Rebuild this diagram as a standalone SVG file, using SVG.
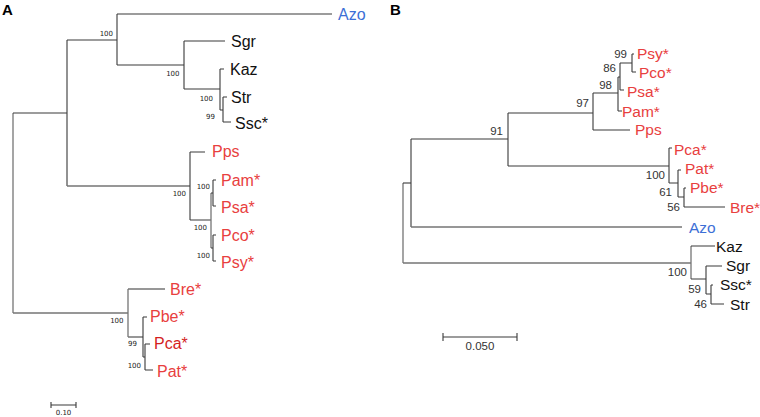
<svg xmlns="http://www.w3.org/2000/svg" width="760" height="417" viewBox="0 0 760 417">
<style>
.br{fill:none;stroke:#3a3a3a;stroke-width:1.1}
.br2{fill:none;stroke:#757575;stroke-width:1.3}
.t{font-family:"Liberation Sans",Arial,sans-serif}
.ta{font-size:16px}
.tb{font-size:15.5px}
.r{fill:#e8403e}
.rd{fill:#d41f1f}
.bl{fill:#3d6fd6}
.k{fill:#111}
.sa{font-family:"DejaVu Sans",Verdana,sans-serif;font-size:7px;fill:#222;text-anchor:end}
.sb{font-family:"Liberation Sans Narrow","Liberation Sans",Arial,sans-serif;font-size:11.5px;fill:#333;text-anchor:end}
.pl{font-family:"Liberation Sans",Arial,sans-serif;font-size:15px;font-weight:bold;fill:#000}
</style>
<rect width="760" height="417" fill="#fff"/>
<text class="pl" x="2" y="15">A</text>
<text class="pl" x="390" y="15">B</text>
<g id="connectors">
<!-- Panel A -->
<path class="br2" d="M13,113 V313"/>
<path class="br" d="M13,113 H67"/>
<path class="br2" d="M13,313 H128"/>
<path class="br" d="M67,40 V186 M67,40 H117"/>
<path class="br2" d="M67,186 H190"/>
<path class="br" d="M117,14 V65 M117,14 H332 M117,65 H184"/>
<path class="br" d="M184,41 V89 M184,41 H225 M184,89 H220"/>
<path class="br" d="M220,69 V110 M220,69 H224 M220,110 H223"/>
<path class="br" d="M223,97 V122 M223,97 H227 M223,122 H231"/>
<path class="br" d="M190,152 V220 M190,152 H205 M190,220 H211"/>
<path class="br2" d="M211,193 V248"/>
<path class="br" d="M211,193 H213 M211,248 H213"/>
<path class="br" d="M213,180 V206 M213,180 H216 M213,206 H216"/>
<path class="br" d="M213,235 V261 M213,235 H216 M213,261 H216"/>
<path class="br2" d="M128,289 V337 M128,289 H165 M128,337 H143"/>
<path class="br" d="M143,317 V357 M143,317 H147 M143,357 H145"/>
<path class="br" d="M145,344 V370 M145,344 H150 M145,370 H153"/>
<path class="br" d="M51,405 H76 M51,402 V408 M76,402 V408"/>
<!-- Panel B -->
<path class="br2" d="M403,183 V263 M403,263 H691"/>
<path class="br" d="M403,183 H411"/>
<path class="br" d="M411,139 V227 M411,139 H508"/>
<path class="br2" d="M411,227 H682"/>
<path class="br" d="M508,113 V166 M508,113 H593 M508,166 H669"/>
<path class="br" d="M593,93 V130 M593,93 H618 M593,130 H630"/>
<path class="br" d="M618,77 V111 M618,77 H620 M618,111 H622"/>
<path class="br" d="M620,63 V90 M620,63 H632 M620,90 H624"/>
<path class="br" d="M632,54 V72 M632,54 H634 M632,72 H636"/>
<path class="br" d="M669,148 V183 M669,148 H672 M669,183 H678"/>
<path class="br" d="M678,170 V197 M678,170 H681 M678,197 H684"/>
<path class="br" d="M684,188 V207 M684,188 H686 M684,207 H725"/>
<path class="br2" d="M691,246 V279"/>
<path class="br" d="M691,246 H715 M691,279 H706"/>
<path class="br" d="M706,266 V294 M706,266 H722 M706,294 H711"/>
<path class="br" d="M711,285 V304 M711,285 H713 M711,304 H724"/>
<path class="br" d="M443,337 H517 M443,333 V341 M517,333 V341"/>
</g>
<g id="support-A">
<text class="sa" x="113" y="36">100</text>
<text class="sa" x="179.5" y="75.5">100</text>
<text class="sa" x="213" y="101">100</text>
<text class="sa" x="215" y="119">99</text>
<text class="sa" x="186" y="196">100</text>
<text class="sa" x="210" y="189">100</text>
<text class="sa" x="207" y="230">100</text>
<text class="sa" x="210" y="257.5">100</text>
<text class="sa" x="123.5" y="323">100</text>
<text class="sa" x="137" y="346">99</text>
<text class="sa" x="141" y="367.5">100</text>
<text class="sa" x="63.5" y="415" style="text-anchor:middle">0.10</text>
</g>
<g id="support-B">
<text class="sb" x="503" y="135">91</text>
<text class="sb" x="589" y="107">97</text>
<text class="sb" x="627" y="57.5">99</text>
<text class="sb" x="616" y="72">86</text>
<text class="sb" x="612" y="88.5">98</text>
<text class="sb" x="665" y="178.5">100</text>
<text class="sb" x="672" y="196">61</text>
<text class="sb" x="680" y="211">56</text>
<text class="sb" x="687" y="276">100</text>
<text class="sb" x="701" y="292.5">59</text>
<text class="sb" x="707" y="307.5">46</text>
<text class="sb" x="480" y="349.5" style="text-anchor:middle">0.050</text>
</g>
<g id="A-Azo"><text class="t ta bl" x="338" y="20">Azo</text></g>
<g id="A-Sgr"><text class="t ta k" x="231" y="47">Sgr</text></g>
<g id="A-Kaz"><text class="t ta k" x="230" y="75">Kaz</text></g>
<g id="A-Str"><text class="t ta k" x="231" y="103">Str</text></g>
<g id="A-Ssc"><text class="t ta k" x="235" y="129">Ssc*</text></g>
<g id="A-Pps"><text class="t ta r" x="212" y="157">Pps</text></g>
<g id="A-Pam"><text class="t ta r" x="221" y="186">Pam*</text></g>
<g id="A-Psa"><text class="t ta r" x="221" y="213">Psa*</text></g>
<g id="A-Pco"><text class="t ta r" x="221" y="241">Pco*</text></g>
<g id="A-Psy"><text class="t ta r" x="221" y="268">Psy*</text></g>
<g id="A-Bre"><text class="t ta r" x="170" y="295">Bre*</text></g>
<g id="A-Pbe"><text class="t ta r" x="150" y="322">Pbe*</text></g>
<g id="A-Pca"><text class="t ta rd" x="154" y="349">Pca*</text></g>
<g id="A-Pat"><text class="t ta r" x="157" y="377">Pat*</text></g>
<g id="B-Psy"><text class="t tb r" x="637" y="59">Psy*</text></g>
<g id="B-Pco"><text class="t tb r" x="639" y="78">Pco*</text></g>
<g id="B-Psa"><text class="t tb r" x="627" y="97">Psa*</text></g>
<g id="B-Pam"><text class="t tb r" x="622" y="117">Pam*</text></g>
<g id="B-Pps"><text class="t tb r" x="635" y="135">Pps</text></g>
<g id="B-Pca"><text class="t tb r" x="674" y="155">Pca*</text></g>
<g id="B-Pat"><text class="t tb r" x="685" y="174">Pat*</text></g>
<g id="B-Pbe"><text class="t tb r" x="690" y="193">Pbe*</text></g>
<g id="B-Bre"><text class="t tb r" x="730" y="213">Bre*</text></g>
<g id="B-Azo"><text class="t tb bl" x="689" y="233">Azo</text></g>
<g id="B-Kaz"><text class="t tb k" x="716" y="252">Kaz</text></g>
<g id="B-Sgr"><text class="t tb k" x="726" y="271">Sgr</text></g>
<g id="B-Ssc"><text class="t tb k" x="720" y="290">Ssc*</text></g>
<g id="B-Str"><text class="t tb k" x="730" y="310">Str</text></g>
</svg>
